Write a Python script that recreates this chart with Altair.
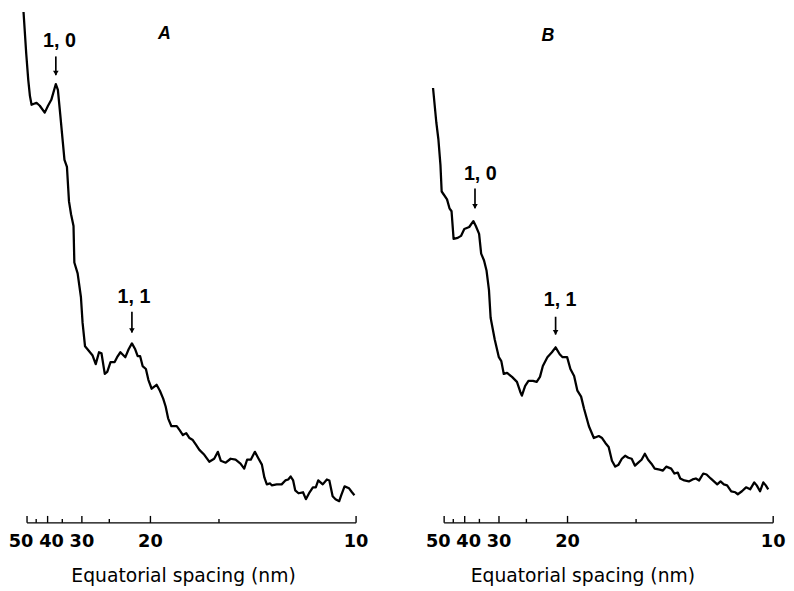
import altair as alt
import pandas as pd

# Reciprocal spacing (1/um) and scan intensity (arbitrary units)
a_s = [19.1, 19.8, 20.3, 20.7, 21.1, 22.3, 23.1, 24.3, 25.1, 25.9,
       27.0, 27.5, 28.1, 28.7, 29.1, 29.7, 30.2, 30.7, 31.3, 31.5,
       32.3, 33.1, 33.5, 34.1, 35.1, 35.9, 36.7, 37.5, 38.1, 38.9,
       39.5, 40.3, 41.3, 41.9, 42.7, 43.9, 44.7, 45.5, 46.3, 46.9,
       47.5, 48.1, 48.9, 49.5, 50.3, 51.5, 52.3, 53.1, 53.7, 54.3,
       55.1, 56.4, 57.1, 57.9, 58.7, 59.5, 60.3, 61.1, 61.9, 63.1,
       64.3, 65.5, 66.4, 67.1, 68.3, 69.5, 70.7, 71.9, 72.8, 73.5,
       74.4, 75.4, 76.3, 77.1, 77.7, 78.3, 79.1, 79.5, 80.7, 81.9,
       82.8, 83.5, 84.1, 84.7, 85.2, 86.0, 87.1, 87.8, 88.7, 89.5,
       90.2, 90.8, 91.9, 92.9, 93.5, 94.3, 95.0, 95.9, 96.4, 97.2,
       98.3, 99.0, 99.6]
a_i = [520, 475, 448, 432, 423, 425, 422, 415, 422, 428,
       444, 438, 412, 385, 367, 360, 325, 312, 300, 263,
       252, 228, 202, 178, 173, 169, 160, 172, 171, 150,
       152, 162, 162, 167, 172, 167, 175, 181, 175, 168,
       168, 158, 155, 144, 135, 139, 133, 125, 117, 105,
       97, 97, 93, 88, 90, 85, 83, 78, 73, 68,
       61, 64, 71, 62, 60, 64, 63, 59, 54, 63,
       63, 71, 64, 58, 45, 38, 39, 37, 38, 38,
       42, 43, 46, 42, 32, 29, 30, 23, 30, 35,
       35, 42, 38, 43, 42, 26, 23, 21, 27, 36,
       34, 30, 27]

b_s = [17.3, 18.1, 18.6, 19.1, 19.4, 19.9, 20.7, 21.3, 21.8, 22.3,
       23.3, 24.1, 24.9, 26.1, 27.1, 27.7, 28.5, 29.0, 29.7, 30.3,
       30.9, 31.3, 32.3, 33.3, 33.9, 34.5, 35.3, 36.5, 37.7, 38.5,
       38.9, 39.7, 40.5, 41.6, 42.5, 43.3, 44.0, 45.1, 46.2, 47.1,
       48.1, 48.8, 49.9, 50.7, 51.6, 52.4, 53.3, 54.0, 55.2, 56.4,
       57.6, 58.4, 59.2, 60.0, 60.8, 61.6, 62.4, 63.2, 64.0, 64.8,
       65.6, 66.4, 67.2, 68.0, 68.8, 69.6, 70.4, 71.2, 72.4, 73.2,
       74.0, 75.2, 76.0, 76.8, 77.4, 78.4, 79.5, 80.4, 81.2, 82.0,
       83.0, 83.8, 84.8, 85.6, 86.4, 87.2, 88.0, 88.8, 89.8, 90.8,
       91.4, 92.4, 93.4, 94.4, 95.4, 96.0, 96.8, 97.6, 98.2, 98.8]
b_i = [440, 405, 388, 362, 335, 332, 327, 318, 315, 287,
       288, 290, 297, 299, 305, 300, 292, 272, 265, 255,
       235, 207, 185, 167, 163, 150, 151, 147, 142, 132,
       128, 138, 143, 143, 142, 147, 158, 167, 172, 177,
       170, 167, 167, 155, 148, 133, 127, 115, 97, 85,
       87, 85, 80, 76, 62, 56, 58, 64, 67, 65,
       64, 57, 60, 63, 69, 63, 59, 54, 53, 52,
       56, 54, 49, 50, 44, 42, 41, 43, 44, 42,
       49, 48, 44, 41, 38, 41, 38, 37, 31, 30,
       28, 31, 35, 33, 40, 37, 31, 40, 37, 33]

# Axis ticks (equatorial spacing, nm)
major_ticks = [50, 40, 30, 20, 10]
minor_ticks = [45, 35, 25, 15]
axis_title = "Equatorial spacing (nm)"

# Reflection annotations: label position and arrow (top, tip)
ann_a_label = ["1, 0", "1, 1"]
ann_a_tx = [27.9, 46.0]
ann_a_ty = [488, 228]
ann_a_ax = [27.0, 45.5]
ann_a_top = [472, 213]
ann_a_tip = [453, 192]

ann_b_label = ["1, 0", "1, 1"]
ann_b_tx = [28.8, 48.2]
ann_b_ty = [353, 225]
ann_b_ax = [27.5, 47.1]
ann_b_top = [338, 208]
ann_b_tip = [318, 190]

letters = ["A", "B"]
letter_s = [53.4, 45.2]
letter_i = [494.5, 493]

W, H = 351, 518
FONT = "DejaVu Sans"
HFONT = "Liberation Sans"
XS = alt.Scale(domain=[15.85, 100], nice=False, zero=False)
YS = alt.Scale(domain=[-1, 517], nice=False, zero=False)


def X(f):
    return alt.X(f, scale=XS, axis=None)


def Y(f):
    return alt.Y(f, scale=YS, axis=None)


def panel(s_vals, i_vals, labels, tx, ty, ax, top, tip, letter, ls, li, title_x):
    trace = pd.DataFrame({"s": s_vals, "i": i_vals})
    line = alt.Chart(trace).mark_line(
        color="black", strokeWidth=2.3, clip=True, strokeJoin="round"
    ).encode(x=X("s:Q"), y=Y("i:Q"))

    ticks = pd.DataFrame({
        "d": major_ticks + minor_ticks,
        "kind": ["major"] * len(major_ticks) + ["minor"] * len(minor_ticks),
    })
    tbase = alt.Chart(ticks).transform_calculate(s="1000 / datum.d")
    major = tbase.transform_filter("datum.kind == 'major'").mark_rule(
        color="black", strokeWidth=1.4
    ).encode(x=X("s:Q"), y=alt.value(H), y2=alt.value(H - 7))
    minor = tbase.transform_filter("datum.kind == 'minor'").mark_rule(
        color="black", strokeWidth=1.4
    ).encode(x=X("s:Q"), y=alt.value(H), y2=alt.value(H - 4))

    dom = alt.Chart(pd.DataFrame({"lo": [max(major_ticks)], "hi": [min(major_ticks)]})).transform_calculate(
        s1="1000 / datum.lo", s2="1000 / datum.hi"
    ).mark_rule(color="black", strokeWidth=1.4).encode(x=X("s1:Q"), x2="s2:Q", y=alt.value(H))

    lab_style = dict(font=FONT, fontSize=18, fontWeight="bold", baseline="alphabetic", align="center", color="black")
    lab_enc = dict(x=X("s:Q"), y=alt.value(H + 25), text=alt.Text("d:Q", format="d"))
    lab_main = tbase.transform_filter("datum.kind == 'major' && datum.d <= 30").mark_text(**lab_style).encode(**lab_enc)
    lab_50 = tbase.transform_filter("datum.d == 50").mark_text(dx=-6, **lab_style).encode(**lab_enc)
    lab_40 = tbase.transform_filter("datum.d == 40").mark_text(dx=4, **lab_style).encode(**lab_enc)

    title = alt.Chart(pd.DataFrame({"t": [axis_title]})).mark_text(
        font=FONT, fontSize=19, baseline="alphabetic", align="center", color="black"
    ).encode(text="t:N", x=alt.value(title_x), y=alt.value(H + 60))

    ann = pd.DataFrame({"label": labels, "tx": tx, "ty": ty, "ax": ax, "top": top, "tip": tip})
    ann_text = alt.Chart(ann).mark_text(
        font=HFONT, fontSize=20, fontWeight="bold", baseline="middle", align="center", color="black"
    ).encode(x=X("tx:Q"), y=Y("ty:Q"), text="label:N")
    arrow = alt.Chart(ann).mark_rule(color="black", strokeWidth=1.7).encode(
        x=X("ax:Q"), y=Y("top:Q"), y2="tip:Q")
    head = alt.Chart(ann).mark_point(
        shape="triangle-down", filled=True, size=32, opacity=1, color="black", yOffset=-2
    ).encode(x=X("ax:Q"), y=Y("tip:Q"))

    let = alt.Chart(pd.DataFrame({"l": [letter], "s": [ls], "i": [li]})).mark_text(
        font=HFONT, fontSize=18, fontWeight="bold", fontStyle="italic", baseline="middle",
        align="center", color="black"
    ).encode(x=X("s:Q"), y=Y("i:Q"), text="l:N")

    return alt.layer(line, dom, major, minor, lab_main, lab_50, lab_40, title,
                     ann_text, arrow, head, let).properties(width=W, height=H)


pA = panel(a_s, a_i, ann_a_label, ann_a_tx, ann_a_ty, ann_a_ax, ann_a_top, ann_a_tip,
           letters[0], letter_s[0], letter_i[0], 176)
pB = panel(b_s, b_i, ann_b_label, ann_b_tx, ann_b_ty, ann_b_ax, ann_b_top, ann_b_tip,
           letters[1], letter_s[1], letter_i[1], 158)

chart = alt.hconcat(pA, pB, spacing=72, bounds="flush").properties(
    padding=0, background="white"
).configure_view(stroke=None)

chart.save("out.html", embed_options={"renderer": "svg", "actions": False})
